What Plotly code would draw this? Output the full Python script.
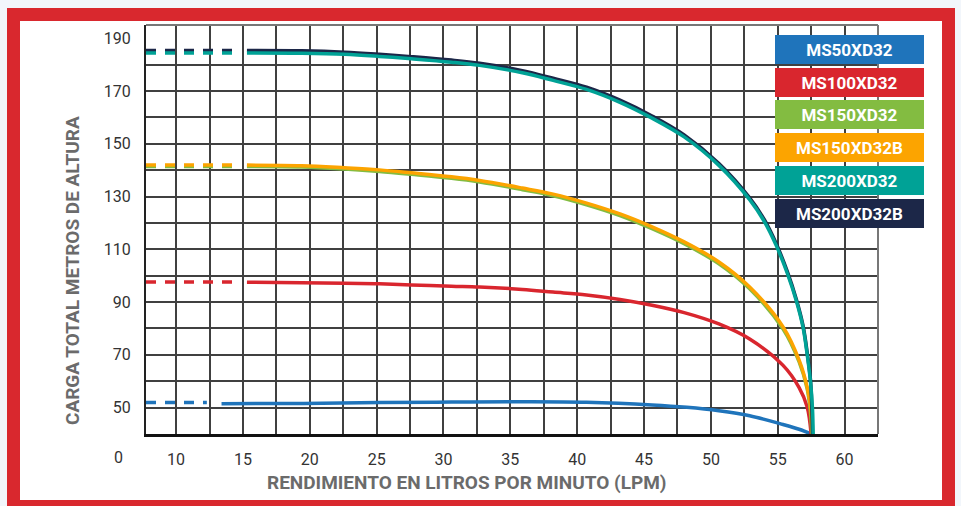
import plotly.graph_objects as go

# ---------------- data ----------------
series_names = ["MS50XD32", "MS100XD32", "MS150XD32", "MS150XD32B", "MS200XD32", "MS200XD32B"]
series_colors = ["#1f74bb", "#d9262e", "#83bc41", "#fca400", "#00a296", "#1c2748"]

# dashed (extrapolated) start of each curve: [x_start, x_end], head value
blue_dash_lpm = [7.75, 12.3]
blue_dash_h = [51.9, 51.9]
red_dash_lpm = [7.75, 14.8]
red_dash_h = [97.6, 97.6]
green_dash_lpm = [7.75, 14.8]
green_dash_h = [141.4, 141.4]
orange_dash_lpm = [7.75, 14.8]
orange_dash_h = [141.9, 141.9]
teal_dash_lpm = [7.75, 14.8]
teal_dash_h = [184.4, 184.4]
navy_dash_lpm = [7.75, 14.8]
navy_dash_h = [185.3, 185.3]

blue_lpm = [13.4, 19.4, 25.2, 30.6, 35.9, 40.7, 45.6, 48.2, 50.6, 52.9, 55.4, 56.6, 57.5]
blue_h = [51.5, 51.6, 51.9, 52.1, 52.2, 52.0, 51.0, 50.1, 48.8, 46.9, 43.6, 41.8, 40.0]

red_lpm = [15.3, 19.4, 22.6, 25.2, 27.6, 30.6, 32.7, 35.9, 38.2, 40.7, 43.2, 45.6, 48.0, 50.6, 52.9, 55.4, 56.6, 57.2, 57.5]
red_h = [97.5, 97.3, 97.1, 96.9, 96.5, 96.0, 95.7, 94.8, 93.8, 92.7, 91.0, 88.8, 86.0, 81.7, 76.0, 66.0, 57.6, 50.3, 40.0]

green_lpm = [15.3, 19.4, 22.6, 25.2, 27.6, 30.6, 32.7, 35.9, 38.2, 40.7, 43.2, 45.6, 48.0, 50.6, 52.9, 55.4, 56.6, 57.2, 57.45, 57.55]
green_h = [141.4, 141.2, 140.4, 139.5, 138.4, 136.9, 135.5, 132.6, 130.3, 126.9, 122.8, 117.8, 112.1, 104.5, 95.0, 79.8, 67.3, 57.2, 48.0, 40.0]

orange_lpm = [15.3, 19.4, 22.6, 25.2, 27.6, 30.6, 32.7, 35.9, 38.2, 40.7, 43.2, 45.6, 48.0, 50.6, 52.9, 55.4, 56.6, 57.2, 57.5, 57.6]
orange_h = [141.9, 141.7, 140.9, 140.1, 139.0, 137.5, 136.1, 133.2, 130.9, 127.5, 123.4, 118.5, 112.8, 105.2, 95.7, 80.6, 68.0, 57.8, 48.3, 40.0]

teal_lpm = [15.3, 19.4, 22.6, 25.2, 27.6, 30.6, 32.7, 35.9, 38.2, 40.7, 43.2, 45.6, 48.0, 50.6, 52.9, 54.0, 54.9, 55.7, 56.4, 56.9, 57.2, 57.45, 57.6, 57.65]
teal_h = [184.4, 184.3, 183.9, 183.1, 182.2, 180.9, 179.7, 176.9, 174.0, 170.6, 165.7, 159.7, 152.6, 141.8, 128.8, 120.5, 111.3, 101.1, 90.3, 80.2, 70.2, 59.9, 49.5, 40.0]

navy_lpm = [15.3, 19.4, 22.6, 25.2, 27.6, 30.6, 32.7, 35.9, 38.2, 40.7, 43.2, 45.6, 48.0, 50.6, 52.9, 54.0, 54.9, 55.7, 56.4, 56.9, 57.2, 57.45, 57.55, 57.6]
navy_h = [185.3, 185.2, 184.7, 183.9, 183.0, 181.7, 180.5, 177.7, 174.8, 171.4, 166.5, 160.5, 153.3, 142.5, 129.5, 121.2, 112.0, 101.8, 90.9, 80.9, 71.0, 60.5, 49.9, 40.0]

x_tick_vals = [10, 15, 20, 25, 30, 35, 40, 45, 50, 55, 60]
x_tick_text = ["10", "15", "20", "25", "30", "35", "40", "45", "50", "55", "60"]
x_minor_vals = [12.5, 17.5, 22.5, 27.5, 32.5, 37.5, 42.5, 47.5, 52.5, 57.5]
y_tick_vals = [50, 70, 90, 110, 130, 150, 170, 190]
y_tick_text = ["50", "70", "90", "110", "130", "150", "170", "190"]
y_grid_vals = [50, 60, 70, 80, 90, 100, 110, 120, 130, 140, 150, 160, 170, 180]

x_title = "RENDIMIENTO EN LITROS POR MINUTO (LPM)"
y_title = "CARGA TOTAL METROS DE ALTURA"
x_origin_label = "0"

# ---------------- figure ----------------
W, H = 961, 506
ML, MR, MT, MB = 146, 83, 25, 72
PW, PH = W - ML - MR, H - MT - MB


def px_x(px):
    return (px - ML) / PW


def px_y(py):
    return (H - MB - py) / PH


fig = go.Figure()

curves = [
    (blue_dash_lpm, blue_dash_h, blue_lpm, blue_h, series_colors[0]),
    (red_dash_lpm, red_dash_h, red_lpm, red_h, series_colors[1]),
    (green_dash_lpm, green_dash_h, green_lpm, green_h, series_colors[2]),
    (orange_dash_lpm, orange_dash_h, orange_lpm, orange_h, series_colors[3]),
    (navy_dash_lpm, navy_dash_h, navy_lpm, navy_h, series_colors[5]),
    (teal_dash_lpm, teal_dash_h, teal_lpm, teal_h, series_colors[4]),
]
for dx, dy, sx, sy, col in curves:
    fig.add_trace(go.Scatter(x=dx, y=dy, mode="lines", showlegend=False, hoverinfo="skip",
                             line=dict(color=col, width=3.5, dash="10px,9px")))
    fig.add_trace(go.Scatter(x=sx, y=sy, mode="lines", showlegend=False,
                             line=dict(color=col, width=3.5, shape="spline", smoothing=1.0)))

grid_col = "#404040"
fig.update_xaxes(
    range=[7.75, 62.5], tickmode="array", tickvals=x_tick_vals, ticktext=x_tick_text,
    showgrid=True, gridcolor=grid_col, gridwidth=1.5, zeroline=False,
    showline=True, linecolor="#111111", linewidth=3, ticks="", ticklabelstandoff=9,
    tickfont=dict(family="Roboto", size=16, color="#333333"),
    minor=dict(tickmode="array", tickvals=x_minor_vals, showgrid=True, gridcolor=grid_col, gridwidth=1.5, ticks=""),
)
fig.update_yaxes(
    range=[40, 195], tickmode="array", tickvals=y_tick_vals, ticktext=y_tick_text,
    showgrid=False, zeroline=False,
    showline=True, linecolor="#222222", linewidth=2, ticks="", ticklabelstandoff=10,
    tickfont=dict(family="Roboto", size=16, color="#333333"),
    minor=dict(tickmode="array", tickvals=y_grid_vals, showgrid=True, gridcolor=grid_col, gridwidth=1.5, ticks=""),
)

shapes = [
    # red frame and white card
    dict(type="rect", xref="paper", yref="paper", layer="below",
         x0=px_x(7), x1=px_x(955), y0=px_y(512), y1=px_y(8), fillcolor="#d9282e", line=dict(width=0)),
    dict(type="rect", xref="paper", yref="paper", layer="below",
         x0=px_x(20), x1=px_x(942), y0=px_y(500), y1=px_y(21), fillcolor="#ffffff", line=dict(width=0)),
    # top and right border of the grid
    dict(type="line", xref="paper", yref="paper", x0=0, x1=1, y0=1, y1=1, line=dict(color="#777777", width=2)),
    dict(type="line", xref="paper", yref="paper", x0=1, x1=1, y0=0, y1=1, line=dict(color="#777777", width=2)),
]

annotations = [
    dict(text=x_origin_label, xref="paper", yref="paper", x=px_x(118), y=px_y(457), showarrow=False,
         xanchor="center", yanchor="middle", font=dict(family="Roboto", size=16, color="#333333")),
    dict(text="<b>" + x_title + "</b>", xref="paper", yref="paper", x=px_x(467), y=px_y(482), showarrow=False,
         xanchor="center", yanchor="middle",
         font=dict(family="Roboto", size=19, color="#6b6b6b")),
    dict(text="<b>" + y_title + "</b>", xref="paper", yref="paper", x=px_x(72), y=px_y(271), showarrow=False,
         textangle=-90, xanchor="center", yanchor="middle",
         font=dict(family="Roboto", size=19, color="#6b6b6b")),
]

legend_centers = [49.5, 82.5, 114.5, 147.5, 180.5, 213.5]
for name, col, cy in zip(series_names, series_colors, legend_centers):
    annotations.append(dict(
        text="<b>" + name + "</b>", xref="paper", yref="paper", x=px_x(849.5), y=px_y(cy),
        xanchor="center", yanchor="middle", showarrow=False, width=149, height=29,
        bgcolor=col, borderpad=0, borderwidth=0, align="center", valign="middle",
        font=dict(family="Roboto", size=17, color="#ffffff"),
    ))

fig.update_layout(
    width=W, height=H, margin=dict(l=ML, r=MR, t=MT, b=MB, pad=0),
    paper_bgcolor="#f2f6fb", plot_bgcolor="#ffffff",
    shapes=shapes, annotations=annotations, showlegend=False,
)

fig.write_html("out.html", config={"displayModeBar": False},
               post_script="document.body.style.margin='0';document.body.style.overflow='hidden';")
